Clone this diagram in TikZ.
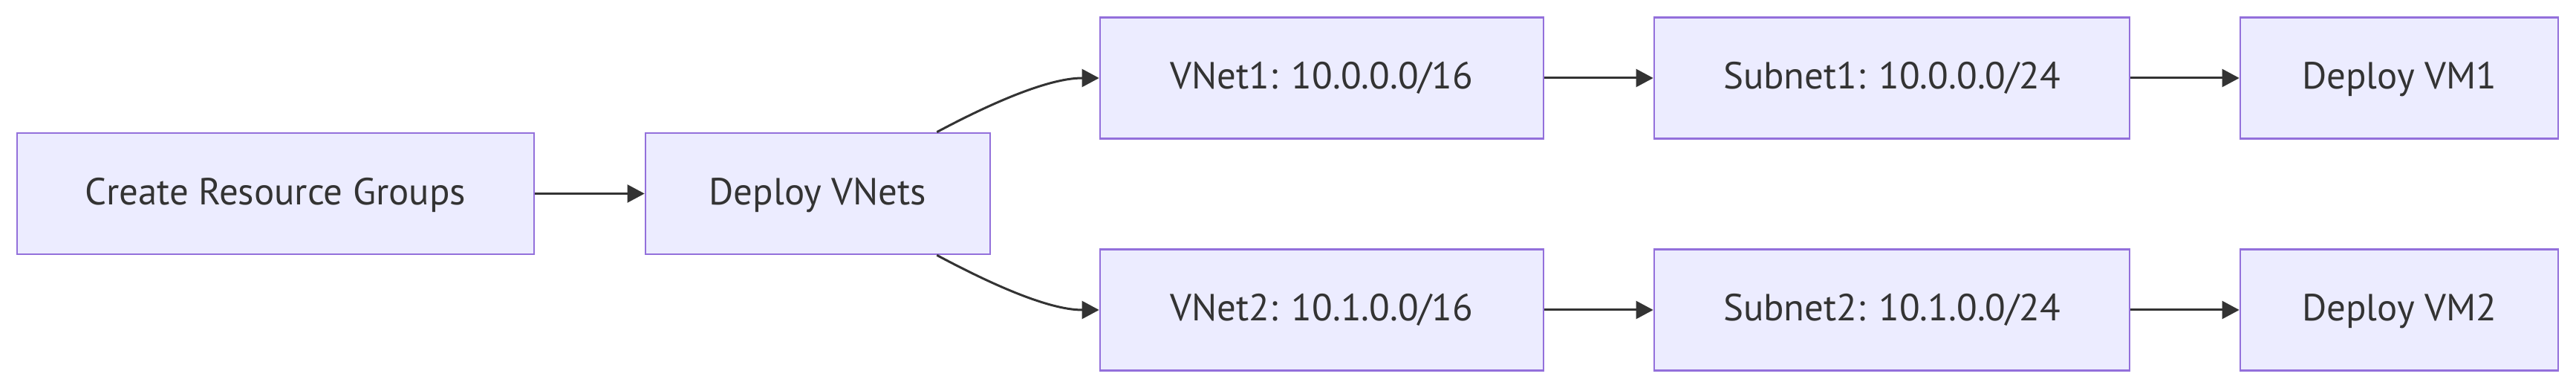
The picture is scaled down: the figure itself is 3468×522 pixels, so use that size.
\documentclass[tikz,border=0pt]{standalone}
\usepackage{fontspec}
\setmainfont{PT Sans}
\usetikzlibrary{arrows.meta}
\definecolor{nodefill}{HTML}{ECECFF}
\definecolor{nodeborder}{HTML}{9370DB}
\definecolor{ink}{HTML}{333333}
\begin{document}
\begin{tikzpicture}[x=0.25pt,y=-0.25pt,
  box/.style={draw=nodeborder, fill=nodefill, line width=0.65pt, text=ink,
    font=\fontsize{12.7}{14}\selectfont, inner sep=0pt, minimum height=40.75pt,
    text height=9.6pt, text depth=2.2pt},
  edge/.style={draw=ink, line width=0.75pt, -{Triangle[length=5.8pt,width=6pt]}}]
\useasboundingbox (0,0) rectangle (3468,522);
\node[box, minimum width=174pt] (crg) at (371,260.5) {Create Resource Groups};
\node[box, minimum width=116pt] (dv) at (1101,260.5) {Deploy VNets};
\node[box, minimum width=149.25pt] (vnet1) at (1779.5,105) {VNet1: 10.0.0.0/16};
\node[box, minimum width=149.25pt] (vnet2) at (1779.5,417) {VNet2: 10.1.0.0/16};
\node[box, minimum width=160pt] (sub1) at (2547,105) {Subnet1: 10.0.0.0/24};
\node[box, minimum width=160pt] (sub2) at (2547,417) {Subnet2: 10.1.0.0/24};
\node[box, minimum width=107pt] (vm1) at (3230,105) {Deploy VM1};
\node[box, minimum width=107pt] (vm2) at (3230,417) {Deploy VM2};
\draw[edge] (crg) -- (dv);
\draw[edge] ([xshift=-18.25pt]dv.north east) .. controls (1330,141) and (1410,105) .. (vnet1.west);
\draw[edge] ([xshift=-18.25pt]dv.south east) .. controls (1330,380) and (1410,417) .. (vnet2.west);
\draw[edge] (vnet1) -- (sub1);
\draw[edge] (vnet2) -- (sub2);
\draw[edge] (sub1) -- (vm1);
\draw[edge] (sub2) -- (vm2);
\end{tikzpicture}
\end{document}
